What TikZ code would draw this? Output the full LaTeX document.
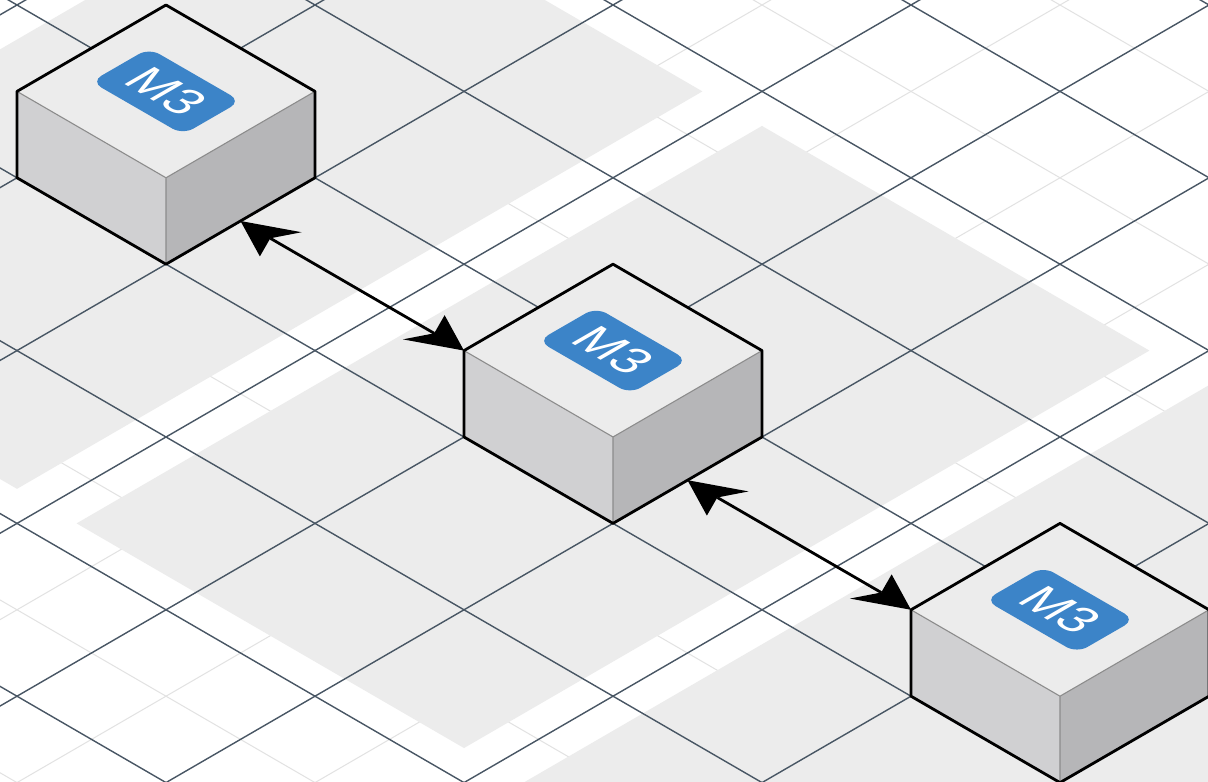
\documentclass[tikz,border=0pt]{standalone}
\usepackage{fontspec}
\setmainfont{Liberation Sans}
\usetikzlibrary{calc}

\definecolor{gridDark}{RGB}{72,86,100}
\definecolor{gridFaint}{RGB}{226,226,226}
\definecolor{zoneGray}{RGB}{236,236,236}
\definecolor{cubeTop}{RGB}{236,236,236}
\definecolor{cubeLeft}{RGB}{208,208,210}
\definecolor{cubeRight}{RGB}{182,182,184}
\definecolor{edgeInner}{RGB}{140,140,140}
\definecolor{badgeBlue}{RGB}{60,132,200}

\tikzset{
  faintline/.style={gridFaint, line width=1pt},
  darkline/.style={gridDark, line width=1.4pt},
  zone/.style={fill=zoneGray},
  cubeoutline/.style={black, line width=2.8pt, line join=round},
  cubeinner/.style={edgeInner, line width=1.1pt, line join=round},
  linkline/.style={black, line width=2.8pt},
  badgetext/.style={transform shape, text=white, inner sep=0pt,
    font=\fontsize{50}{50}\selectfont},
}

% isometric box sitting on the floor cell [#1,#1+1] x [#2,#2+1], with badge #3
\newcommand\isobox[3]{%
  \fill[cubeLeft] (#1,{#2+1},0) -- ({#1+1},{#2+1},0) -- ({#1+1},{#2+1},1) -- (#1,{#2+1},1) -- cycle;
  \fill[cubeRight] ({#1+1},{#2+1},0) -- ({#1+1},#2,0) -- ({#1+1},#2,1) -- ({#1+1},{#2+1},1) -- cycle;
  \fill[cubeTop] (#1,#2,1) -- ({#1+1},#2,1) -- ({#1+1},{#2+1},1) -- (#1,{#2+1},1) -- cycle;
  \draw[cubeinner] (#1,{#2+1},1) -- ({#1+1},{#2+1},1) -- ({#1+1},#2,1)
                   ({#1+1},{#2+1},1) -- ({#1+1},{#2+1},0);
  \draw[cubeoutline] (#1,#2,1) -- ({#1+1},#2,1) -- ({#1+1},#2,0) -- ({#1+1},{#2+1},0)
                     -- (#1,{#2+1},0) -- (#1,{#2+1},1) -- cycle;
  \begin{scope}[shift={({#1+0.5},{#2+0.5},1)}, x=1pt, y=1pt, cm={0.866,-0.5,0.866,0.5,(0,0)}]
    \fill[badgeBlue, rounded corners=12pt] (-53,-33.5) rectangle (53,33.5);
    \node[badgetext] (#3) at (0,0) {M3};
  \end{scope}
}

% arrow head lying on the floor; #1 tip, #2 = +1/-1 side of the shaft
\newcommand\isohead[2]{%
  \fill ($(#1)+(#2*0.27,0.14)$) -- (#1) -- ($(#1)+(#2*0.27,-0.14)$)
        -- ($(#1)+(#2*0.2,0)$) -- cycle;
}

\begin{document}
\begin{tikzpicture}[x=1pt, y=1pt]
\useasboundingbox (0,0) rectangle (1208,782);
\clip (0,0) rectangle (1208,782);
\fill[white] (0,0) rectangle (1208,782);

\begin{scope}[shift={(613,777)}, x={(149pt,-86.4pt)}, y={(-149pt,-86.4pt)}, z={(0pt,86.4pt)}]
  % fine floor lines
  \foreach \k in {-3.5,-2.5,...,8.5} {
    \draw[faintline] (\k,-4) -- (\k,10);
    \draw[faintline] (-4,\k) -- (10,\k);
  }
  % floor zones
  \foreach \a in {-4.8,-1.8,1.2,4.2} {
    \fill[zone] (\a,0.2) -- ({\a+2.6},0.2) -- ({\a+2.6},4.8) -- (\a,4.8) -- cycle;
  }
  % main floor lines
  \foreach \k in {-4,...,9} {
    \draw[darkline] (\k,-4) -- (\k,10);
    \draw[darkline] (-4,\k) -- (10,\k);
  }

  % boxes
  \isobox{-1}{2}{m3a}
  \isobox{2}{2}{m3b}
  \isobox{5}{2}{m3c}

  % links between the boxes
  \coordinate (p1) at (0,2.5);
  \coordinate (p2) at (1.5,2.5);
  \coordinate (p3) at (3,2.5);
  \coordinate (p4) at (4.5,2.5);
  \draw[linkline] ($(p1)+(0.2,0)$) -- ($(p2)+(-0.2,0)$);
  \isohead{p1}{1}
  \isohead{p2}{-1}
  \draw[linkline] ($(p3)+(0.2,0)$) -- ($(p4)+(-0.2,0)$);
  \isohead{p3}{1}
  \isohead{p4}{-1}
\end{scope}
\end{tikzpicture}
\end{document}
